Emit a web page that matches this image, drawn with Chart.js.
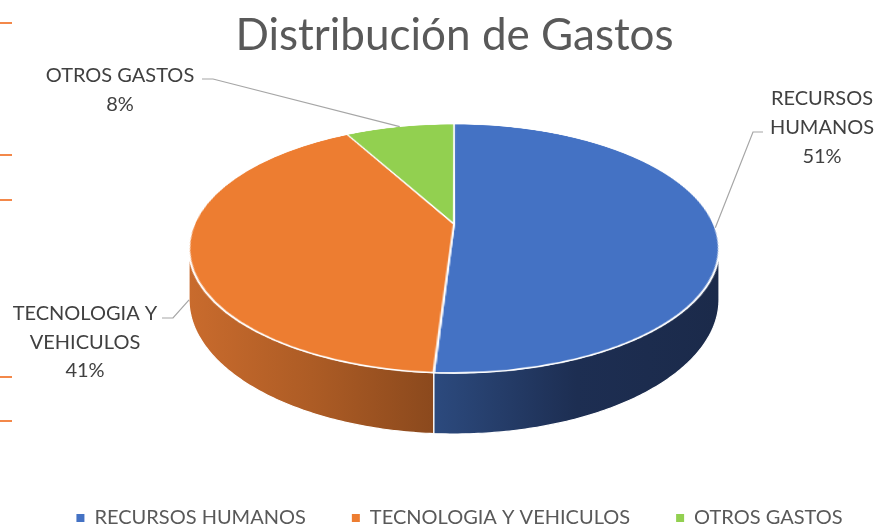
<!DOCTYPE html>
<html><head><meta charset="utf-8">
<script src="https://cdn.jsdelivr.net/npm/chart.js@4.4.1/dist/chart.umd.min.js"></script>
<style>
html,body{margin:0;padding:0;background:#fff;overflow:hidden}
#wrap{position:relative;width:879px;height:530px}
canvas{display:block}
.tick{position:absolute;left:0;width:12px;height:2px;background:#F3884A}
</style></head><body>
<div id="wrap">
<canvas id="c" width="879" height="530"></canvas>
<div class="tick" style="top:22px"></div>
<div class="tick" style="top:154px"></div>
<div class="tick" style="top:199px"></div>
<div class="tick" style="top:376px"></div>
<div class="tick" style="top:420px"></div>
</div>
<script>
// ---- data ----
const categories = ['RECURSOS HUMANOS', 'TECNOLOGIA Y VEHICULOS', 'OTROS GASTOS'];
const values = [51, 41, 8];
const chartTitle = 'Distribución de Gastos';

// ---- styles ----
const colors = ['#4472C4', '#ED7D31', '#92D050'];
const sideShades = [
  ['#2C4A7E', '#1D2E52', '#1B2A4A'],
  ['#C96B2D', '#AD5C25', '#8B491D'],
  ['#76AE3E', '#5B8A2E']
];
// 3D view geometry (layout, pixels)
const VIEW = { shiftX: 14.5, top: 124, center: 224, bottom: 373, halfWidth: 265, depth: 61 };
const LEGEND_POS = { top: 462, shiftX: 20 };
const TITLE_SHIFT_X = 15;
const LABEL_LAYOUT = [
  { x: 822, y: 105, lh: 29, maxWidth: 125, lead: [[763, 132], [753, 132]], depth: 0 },
  { x: 85, y: 320, lh: 28.5, maxWidth: 168, lead: [[162, 318], [173, 318]], depth: 0.95 },
  { x: 120, y: 82, lh: 28.5, maxWidth: 180, lead: [[202, 79], [213, 79]], depth: 0 }
];

function viewParams(cx) {
  const far = VIEW.center - VIEW.top, near = VIEW.bottom - VIEW.center;
  const t = (near - far) / (near + far);
  return { cx: cx + VIEW.shiftX, cy: VIEW.center, t, A: VIEW.halfWidth * Math.sqrt(1 - t * t), B: far * (1 + t), H: VIEW.depth * (1 - t) };
}
function proj(p, un, vn, d) {
  const w = 1 - p.t * vn;
  return { x: p.cx + p.A * un / w, y: p.cy + (p.B * vn + d * p.H) / w };
}
function vOf(p, y) { const d = y - p.cy; return d / (p.B + p.t * d); }

function wrapText(ctx, text, maxW) {
  const words = text.split(' '); const lines = []; let cur = '';
  words.forEach(w => {
    const test = cur ? cur + ' ' + w : w;
    if (cur && ctx.measureText(test).width > maxW) { lines.push(cur); cur = w; } else cur = test;
  });
  if (cur) lines.push(cur);
  return lines;
}

const pie3d = {
  id: 'pie3d',
  afterLayout(chart) {
    const lg = chart.legend;
    if (lg) {
      const h = lg.bottom - lg.top;
      lg.top = LEGEND_POS.top; lg.bottom = LEGEND_POS.top + h;
      lg.left += LEGEND_POS.shiftX; lg.right += LEGEND_POS.shiftX;
    }
    const tt = chart.titleBlock;
    if (tt) { tt.left += TITLE_SHIFT_X; tt.right += TITLE_SHIFT_X; }
  },
  beforeDatasetsDraw(chart) {
    const arcs = chart.getDatasetMeta(0).data;
    if (!arcs.length) return;
    const ctx = chart.ctx;
    const p = viewParams(arcs[0].x);
    // side walls
    const lo = Math.asin(p.t), hi = Math.PI - lo;
    arcs.forEach((a, i) => {
      const s = Math.max(a.startAngle, lo), e = Math.min(a.endAngle, hi);
      if (e <= s) return;
      const n = Math.max(8, Math.ceil((e - s) * 80));
      const top = [], bot = [];
      for (let j = 0; j <= n; j++) {
        const ang = s + (e - s) * j / n;
        top.push(proj(p, Math.cos(ang), Math.sin(ang), 0));
        bot.push(proj(p, Math.cos(ang), Math.sin(ang), 1));
      }
      const xs = top.map(q => q.x);
      const x0 = Math.min(...xs), x1 = Math.max(...xs);
      const g = ctx.createLinearGradient(x0, 0, x1, 0);
      const sh = sideShades[i];
      sh.forEach((c, k) => g.addColorStop(k / (sh.length - 1), c));
      ctx.save();
      ctx.beginPath();
      top.forEach((q, j) => j ? ctx.lineTo(q.x, q.y) : ctx.moveTo(q.x, q.y));
      for (let j = bot.length - 1; j >= 0; j--) ctx.lineTo(bot[j].x, bot[j].y);
      ctx.closePath();
      ctx.fillStyle = g; ctx.fill();
      ctx.strokeStyle = '#fff'; ctx.lineWidth = 1.2; ctx.stroke();
      ctx.restore();
    });
    // top face: draw library arcs flat, then project with perspective row by row
    const R = arcs[0].outerRadius;
    const S = 230, PAD = 8, C = S + PAD;
    const off = document.createElement('canvas');
    off.width = off.height = 2 * C;
    const o = off.getContext('2d');
    const k = S / R;
    o.setTransform(k, 0, 0, k, C - k * arcs[0].x, C - k * arcs[0].y);
    arcs.forEach(a => a.draw(o));
    ctx.save();
    ctx.imageSmoothingEnabled = true; ctx.imageSmoothingQuality = 'high';
    for (let y = VIEW.top - 3; y < VIEW.bottom + 3; y++) {
      const v0 = vOf(p, y), v1 = vOf(p, y + 1), vm = vOf(p, y + 0.5);
      const sy0 = Math.max(0, C + v0 * S), sy1 = Math.min(2 * C, C + v1 * S);
      if (sy1 <= sy0) continue;
      const half = p.A * (C / S) / (1 - p.t * vm);
      ctx.drawImage(off, 0, sy0, 2 * C, sy1 - sy0, p.cx - half, y, 2 * half, 1);
    }
    ctx.restore();
    return false;
  },
  afterDraw(chart) {
    const arcs = chart.getDatasetMeta(0).data;
    if (!arcs.length) return;
    const p = viewParams(arcs[0].x);
    const ctx = chart.ctx;
    const total = values.reduce((a, b) => a + b, 0);
    ctx.save();
    ctx.font = '20px Lato';
    ctx.fillStyle = '#404040';
    ctx.textAlign = 'center';
    ctx.textBaseline = 'alphabetic';
    arcs.forEach((a, i) => {
      const L = LABEL_LAYOUT[i];
      const lines = wrapText(ctx, categories[i], L.maxWidth);
      lines.push(Math.round(values[i] / total * 100) + '%');
      lines.forEach((ln, j) => ctx.fillText(ln, L.x, L.y + j * L.lh));
      const mid = (a.startAngle + a.endAngle) / 2;
      const end = proj(p, Math.cos(mid), Math.sin(mid), L.depth);
      ctx.beginPath();
      ctx.moveTo(L.lead[0][0], L.lead[0][1]);
      ctx.lineTo(L.lead[1][0], L.lead[1][1]);
      ctx.lineTo(end.x, end.y);
      ctx.strokeStyle = '#A6A6A6'; ctx.lineWidth = 1.2; ctx.stroke();
    });
    ctx.restore();
  }
};

new Chart(document.getElementById('c'), {
  type: 'pie',
  data: {
    labels: categories,
    datasets: [{ data: values, backgroundColor: colors, borderColor: '#FFFFFF', borderWidth: 1.5 }]
  },
  options: {
    responsive: false,
    animation: false,
    layout: { padding: 0 },
    plugins: {
      tooltip: { enabled: false },
      title: {
        display: true, text: chartTitle, color: '#595959',
        font: { family: 'Lato', size: 44, weight: 'normal' },
        padding: { top: 9, bottom: 0 }
      },
      legend: {
        position: 'bottom',
        labels: {
          font: { family: 'Lato', size: 20 }, color: '#595959',
          boxWidth: 8, boxHeight: 8, padding: 46,
          generateLabels(chart) {
            const ds = chart.data.datasets[0];
            return chart.data.labels.map((t, i) => ({
              text: t, fillStyle: ds.backgroundColor[i], strokeStyle: ds.backgroundColor[i],
              lineWidth: 0, fontColor: '#595959', hidden: false, index: i
            }));
          }
        }
      }
    }
  },
  plugins: [pie3d]
});
</script>
</body></html>
